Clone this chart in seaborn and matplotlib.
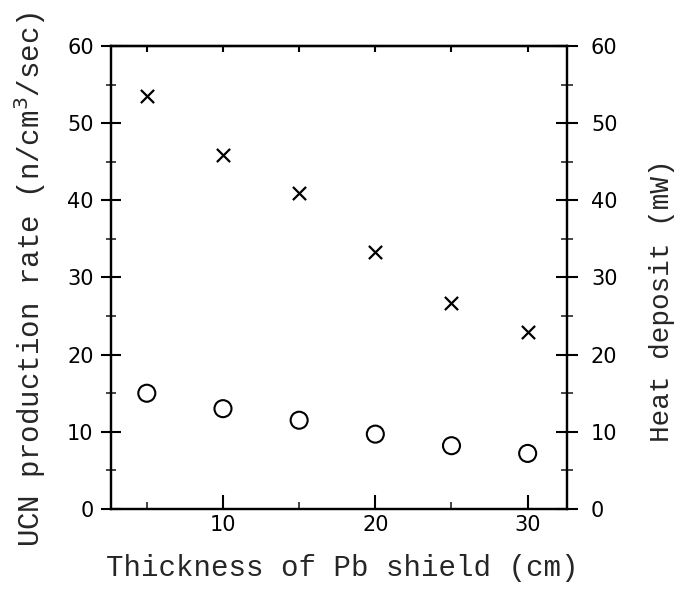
import matplotlib
matplotlib.use("Agg")
import matplotlib.pyplot as plt
import seaborn as sns
import pandas as pd
from matplotlib.ticker import MultipleLocator

thickness = [5, 10, 15, 20, 25, 30]
ucn_rate = [15.0, 13.0, 11.5, 9.7, 8.2, 7.2]
heat_deposit = [53.5, 45.9, 40.9, 33.3, 26.7, 22.9]

sns.set_theme(style="white")
plt.rcParams['font.family'] = ['Liberation Mono', 'DejaVu Sans Mono']

df = pd.DataFrame({"thickness": thickness, "ucn": ucn_rate, "heat": heat_deposit})

fig = plt.figure(figsize=(6.81, 5.93), dpi=100)
ax = fig.add_axes([0.163, 0.1417, 0.670, 0.7807])
ax2 = ax.twinx()

sns.scatterplot(data=df, x="thickness", y="ucn", ax=ax, marker="o", s=150,
                facecolor="none", edgecolor="black", linewidth=1.5)
sns.scatterplot(data=df, x="thickness", y="heat", ax=ax2, marker="x", s=90,
                color="black", linewidth=1.6)

for a in (ax, ax2):
    a.set_ylim(0, 60)
    a.yaxis.set_major_locator(MultipleLocator(10))
    a.yaxis.set_minor_locator(MultipleLocator(5))
ax.set_xlim(2.65, 32.6)
ax.xaxis.set_major_locator(MultipleLocator(10))
ax.xaxis.set_minor_locator(MultipleLocator(5))

for sp in ax.spines.values():
    sp.set_color("black")
    sp.set_linewidth(1.6)
for sp in ax2.spines.values():
    sp.set_color("black")
    sp.set_linewidth(1.6)

ax.tick_params(axis="y", which="major", direction="inout", length=15, width=1.5,
               left=True, labelsize=15, pad=5, colors="black")
ax.tick_params(axis="y", which="minor", direction="inout", length=7, width=1.2, left=True)
ax.tick_params(axis="x", which="major", direction="in", length=10, width=1.5,
               bottom=True, top=False, labelsize=15, pad=4, colors="black")
ax.tick_params(axis="x", which="minor", direction="in", length=5, width=1.2,
               bottom=True, top=False)
ax2.tick_params(axis="y", which="major", direction="inout", length=16, width=1.5,
                right=True, labelsize=15, pad=9, colors="black")
ax2.tick_params(axis="y", which="minor", direction="inout", length=8, width=1.2, right=True)

top = ax.secondary_xaxis("top")
top.xaxis.set_major_locator(MultipleLocator(5))
top.tick_params(axis="x", which="major", direction="in", length=4, width=1.5,
                labeltop=False, colors="black")
top.spines["top"].set_linewidth(1.6)
top.spines["top"].set_color("black")

for lab in ax.get_xticklabels() + ax.get_yticklabels() + ax2.get_yticklabels():
    lab.set_fontfamily("DejaVu Sans")

ax.set_xlabel("Thickness of Pb shield (cm)", fontsize=21)
ax.set_ylabel("UCN production rate (n/cm$^3$/sec)", fontsize=21)
ax2.set_ylabel("Heat deposit (mW)", fontsize=20)

ax.xaxis.set_label_coords(0.507, -0.127)
ax.xaxis.label.set_verticalalignment("center")
ax.yaxis.set_label_coords(-0.178, 0.497)
ax.yaxis.label.set_verticalalignment("center")
ax2.yaxis.set_label_coords(1.208, 0.449)
ax2.yaxis.label.set_verticalalignment("center")

fig.savefig("out.png", dpi=100)
